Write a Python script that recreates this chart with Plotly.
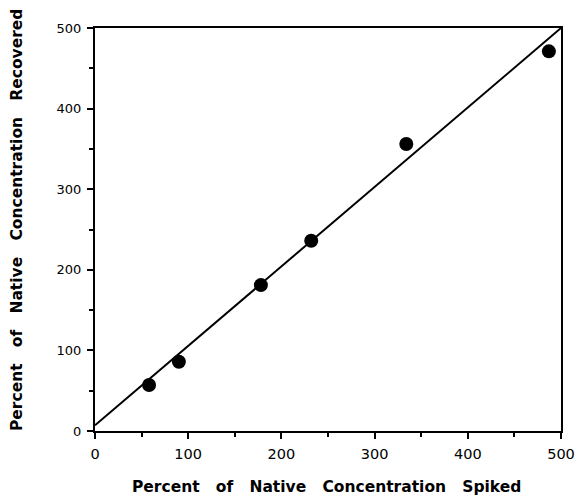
import plotly.graph_objects as go

# Spiked vs. recovered concentrations (percent of native)
spiked = [58, 90, 178, 232, 334, 487]
recovered = [57, 86, 181, 236, 356, 471]

# Fitted line end points
fit_x = [0, 500]
fit_y = [7, 500]

tick_vals = [0, 100, 200, 300, 400, 500]
tick_text = ["0", "100", "200", "300", "400", "500"]
minor_vals = [50, 150, 250, 350, 450]

x_title_words = ["Percent", "of", "Native", "Concentration", "Spiked"]
y_title_words = ["Percent", "of", "Native", "Concentration", "Recovered"]

NB = "\u00a0"
def spaced(words, gap=3):
    return (NB * gap).join(words)

TITLE_FONT = dict(family="DejaVu Sans", size=15.5, color="black")

fig = go.Figure()
fig.add_trace(go.Scatter(
    x=fit_x, y=fit_y, mode="lines",
    line=dict(color="black", width=2), showlegend=False, hoverinfo="skip"))
fig.add_trace(go.Scatter(
    x=spiked, y=recovered, mode="markers",
    marker=dict(color="black", size=14), showlegend=False))

axis_common = dict(
    range=[0, 500], tickvals=tick_vals, ticktext=tick_text,
    showgrid=False, zeroline=False, showline=True, linecolor="black",
    linewidth=2, mirror=True, ticks="outside", tickwidth=2, ticklen=6,
    tickcolor="black", automargin=False,
    minor=dict(tickvals=minor_vals, ticks="outside", ticklen=4,
               tickwidth=2, tickcolor="black"),
)

fig.update_layout(
    width=576, height=497,
    margin=dict(l=95, r=15, t=28, b=66),
    paper_bgcolor="white", plot_bgcolor="white",
    xaxis=dict(axis_common, tickfont=dict(family="DejaVu Sans", size=14.5, color="black"),
               ticklabelstandoff=3),
    yaxis=dict(axis_common, tickfont=dict(family="DejaVu Sans", size=13, color="black"),
               ticklabelstandoff=3),
    annotations=[
        dict(text="<b>" + spaced(x_title_words) + "</b>", font=TITLE_FONT,
             xref="paper", yref="paper", x=0.496, y=-0.139,
             xanchor="center", yanchor="middle", showarrow=False),
        dict(text="<b>" + spaced(y_title_words) + "</b>", font=TITLE_FONT,
             xref="paper", yref="paper", x=-0.167, y=0.524, textangle=-90,
             xanchor="center", yanchor="middle", showarrow=False),
    ],
)

fig.write_html("out.html")
